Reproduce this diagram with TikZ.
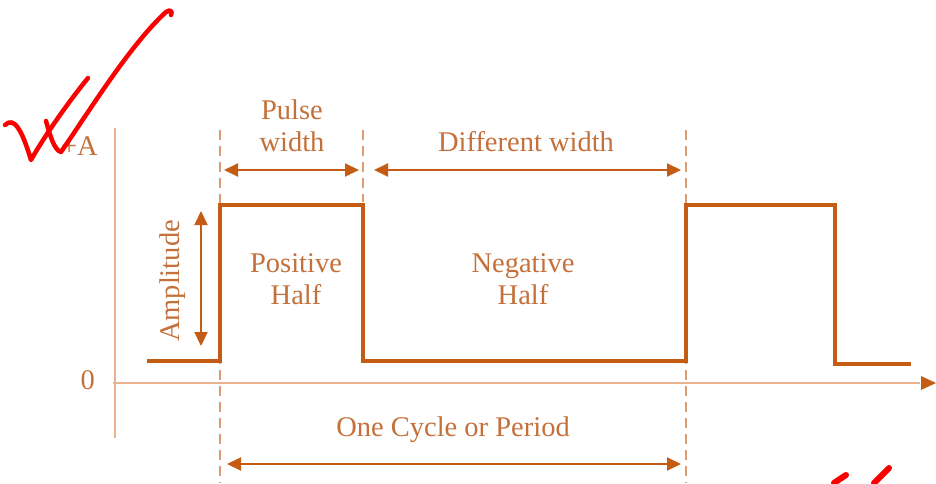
\documentclass[tikz,border=0pt]{standalone}
\usepackage{fontspec}
\setmainfont{Liberation Serif}
\usetikzlibrary{arrows.meta}
\definecolor{wave}{RGB}{197,92,20}
\definecolor{label}{RGB}{196,112,58}
\definecolor{axis}{RGB}{234,178,142}
\definecolor{guide}{RGB}{224,156,112}
\definecolor{ink}{RGB}{250,0,0}
\tikzset{
  x=1pt, y=-1pt,
  txt/.style={text=label, font=\fontsize{28.5}{32}\selectfont, inner sep=0pt, align=center},
  signal/.style={draw=wave, line width=3.2pt, line join=miter},
  axisline/.style={draw=axis, line width=2.2pt},
  guideline/.style={draw=guide, line width=2.2pt, dash pattern=on 10pt off 6pt},
  span/.style={draw=wave, line width=2pt, {Triangle[length=14pt,width=13pt]}-{Triangle[length=14pt,width=13pt]}},
  pen/.style={draw=ink, line width=4.5pt, line cap=round, line join=round},
}
\begin{document}
\begin{tikzpicture}
\useasboundingbox (0,0) rectangle (936,483);

% axes
\coordinate (yb) at (115,438);
\coordinate (yt) at (115,128);
\coordinate (x0) at (113,383);
\coordinate (xe) at (936,383);
\draw[axisline] (yb) -- (yt);
\draw[axisline] (x0) -- (920,383);
\draw[draw=none, fill=wave] (xe) -- (921,376) -- (921,390) -- cycle;

% axis labels
\node[txt, anchor=east] (lblA) at (98,146) {+A};
\node[txt, anchor=east] (lbl0) at (95,380) {0};

% dashed guides at the edges of the pulses
\coordinate (g1t) at (220,130); \coordinate (g1b) at (220,483);
\coordinate (g2t) at (363,130); \coordinate (g2b) at (363,202);
\coordinate (g3t) at (686,130); \coordinate (g3b) at (686,483);
\draw[guideline] (g1t) -- (g1b);
\draw[guideline] (g2t) -- (g2b);
\draw[guideline] (g3t) -- (g3b);

% square wave
\draw[signal] (147,361) -- (220,361) -- (220,205) -- (363,205) -- (363,361)
  -- (686,361) -- (686,205) -- (835,205) -- (835,364) -- (911,364);

% dimension arrows
\coordinate (pwL) at (224,170); \coordinate (pwR) at (359,170);
\coordinate (dwL) at (374,170); \coordinate (dwR) at (681,170);
\coordinate (cyL) at (227,464); \coordinate (cyR) at (681,464);
\coordinate (amT) at (201,211); \coordinate (amB) at (201,346);
\draw[span] (pwL) -- (pwR);
\draw[span] (dwL) -- (dwR);
\draw[span] (cyL) -- (cyR);
\draw[span] (amT) -- (amB);

% labels
\node[txt] (pulse) at (292,126) {Pulse\\width};
\node[txt] (diff) at (526,142) {Different width};
\node[txt] (pos) at (296,279) {Positive\\Half};
\node[txt] (neg) at (523,279) {Negative\\Half};
\node[txt] (cycle) at (453,430) {One Cycle or Period};
\node[txt, rotate=90] (amp) at (173,281) {Amplitude};

% red check marks
\draw[pen] (5,125) .. controls (14,116) and (22,130) .. (31,160)
  .. controls (45,135) and (70,100) .. (88,78);
\draw[pen] (46,121) .. controls (50,135) and (54,150) .. (61,152)
  .. controls (90,110) and (130,45) .. (166,12)
  .. controls (170,9) and (173,11) .. (171,15);
\draw[pen, line width=6pt] (834,483) -- (846,475);
\draw[pen, line width=6pt] (874,483) -- (889,468);
\end{tikzpicture}
\end{document}
